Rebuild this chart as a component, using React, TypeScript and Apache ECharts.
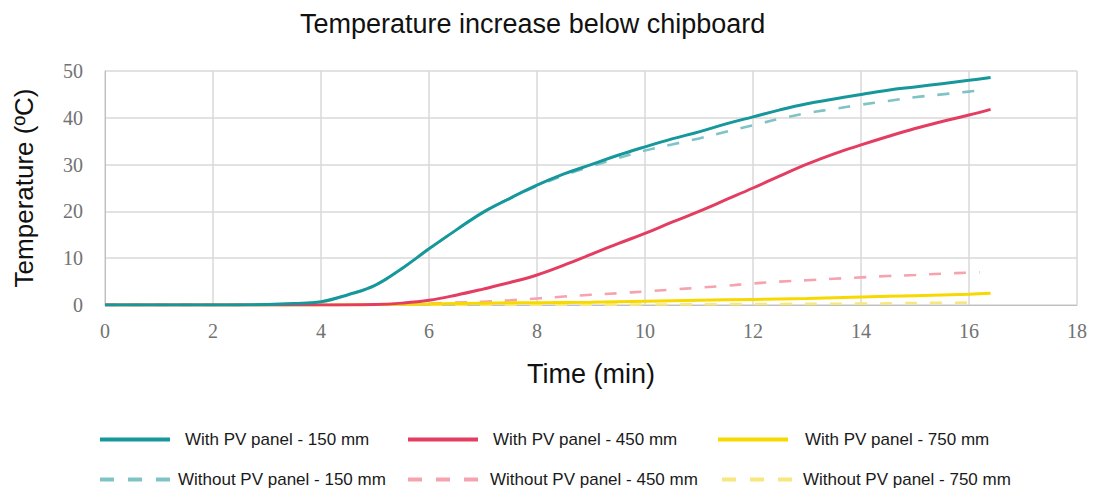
import React, { useEffect, useRef } from "react";
import * as echarts from "echarts";

const xTicks = [0, 2, 4, 6, 8, 10, 12, 14, 16, 18];
const yTicks = [0, 10, 20, 30, 40, 50];

const seriesNames = [
  "With PV panel - 150 mm",
  "With PV panel - 450 mm",
  "With PV panel - 750 mm",
  "Without PV panel - 150 mm",
  "Without PV panel - 450 mm",
  "Without PV panel - 750 mm",
];

const timeWith150 = [0, 1, 2, 3, 3.5, 4, 4.5, 5, 5.5, 6, 6.5, 7, 7.5, 8, 8.5, 9, 9.5, 10, 10.5, 11, 11.5, 12, 12.5, 13, 13.5, 14, 14.5, 15, 15.5, 16, 16.4];
const tempWith150 = [0, 0, 0, 0.1, 0.3, 0.7, 2.2, 4.2, 7.8, 12, 16, 19.8, 22.8, 25.6, 28, 30, 32, 33.8, 35.5, 37, 38.7, 40.2, 41.7, 43, 44, 45, 45.9, 46.6, 47.3, 48, 48.6];

const timeWithout150 = [0, 1, 2, 3, 3.5, 4, 4.5, 5, 5.5, 6, 6.5, 7, 7.5, 8, 8.5, 9, 9.5, 10, 10.5, 11, 11.5, 12, 12.5, 13, 13.5, 14, 14.5, 15, 15.5, 16, 16.2];
const tempWithout150 = [0, 0, 0, 0.1, 0.3, 0.7, 2.2, 4.2, 7.8, 12, 16, 19.8, 22.8, 25.4, 27.7, 29.6, 31.4, 33, 34.3, 35.6, 37, 38.4, 39.8, 41, 41.9, 42.8, 43.6, 44.4, 45, 45.6, 45.9];

const timeWith450 = [0, 1, 2, 3, 4, 5, 5.5, 6, 6.5, 7, 7.5, 8, 8.5, 9, 9.5, 10, 10.5, 11, 11.5, 12, 12.5, 13, 13.5, 14, 14.5, 15, 15.5, 16, 16.4];
const tempWith450 = [0, 0, 0, 0, 0, 0.1, 0.4, 1, 2.1, 3.4, 4.8, 6.4, 8.5, 10.8, 13.1, 15.3, 17.7, 20, 22.5, 25, 27.6, 30.1, 32.3, 34.2, 36, 37.7, 39.2, 40.6, 41.8];

const timeWithout450 = [0, 1, 2, 3, 4, 5, 5.5, 6, 6.5, 7, 7.5, 8, 8.5, 9, 9.5, 10, 10.5, 11, 11.5, 12, 12.5, 13, 13.5, 14, 14.5, 15, 15.5, 16, 16.2];
const tempWithout450 = [0, 0, 0, 0, 0, 0, 0.1, 0.3, 0.5, 0.7, 1, 1.4, 1.8, 2.2, 2.5, 2.9, 3.3, 3.7, 4.1, 4.6, 5, 5.3, 5.6, 5.9, 6.2, 6.4, 6.7, 6.9, 7];

const timeWith750 = [0, 1, 2, 3, 4, 5, 6, 7, 8, 9, 10, 11, 12, 13, 14, 15, 16, 16.4];
const tempWith750 = [0, 0, 0, 0, 0, 0.1, 0.2, 0.4, 0.5, 0.6, 0.8, 1, 1.2, 1.4, 1.7, 2, 2.3, 2.5];

const timeWithout750 = [0, 2, 4, 6, 8, 10, 12, 14, 16, 16.2];
const tempWithout750 = [0, 0, 0, 0, 0.05, 0.1, 0.2, 0.3, 0.5, 0.5];

const colors = ["#16979b", "#e33d62", "#f7d900", "#7fc3c5", "#f5a3ae", "#f8e77e"];

const pair = (t: number[], v: number[]) => t.map((x, i) => [x, v[i]]);

const SOLID_ICON = "path://M0,0H70V4H0Z";
const DASH_ICON = "path://M0,0H14V4H0Z M28,0H42V4H28Z M56,0H70V4H56Z";

const App: React.FC = () => {
  const ref = useRef<HTMLDivElement>(null);
  useEffect(() => {
    if (!ref.current) return;
    const chart = echarts.init(ref.current, undefined, { renderer: "svg" });
    const data = [
      pair(timeWith150, tempWith150),
      pair(timeWith450, tempWith450),
      pair(timeWith750, tempWith750),
      pair(timeWithout150, tempWithout150),
      pair(timeWithout450, tempWithout450),
      pair(timeWithout750, tempWithout750),
    ];
    const legendPos = [
      { left: 100, top: 431, pad: 10 },
      { left: 408, top: 431, pad: 10 },
      { left: 718, top: 431, pad: 12 },
      { left: 100, top: 471, pad: 3 },
      { left: 408, top: 471, pad: 7 },
      { left: 722, top: 471, pad: 6 },
    ];
    const z = [6, 5, 4, 3, 2, 1];
    chart.setOption({
      animation: false,
      backgroundColor: "#ffffff",
      title: {
        text: "Temperature increase below chipboard",
        left: 295,
        top: 5,
        textStyle: { fontFamily: "Liberation Sans", fontSize: 27, fontWeight: "normal", color: "#111" },
      },
      legend: seriesNames.map((n, i) => ({
        data: [{ name: n, icon: i < 3 ? SOLID_ICON : DASH_ICON }],
        left: legendPos[i].left,
        top: legendPos[i].top,
        padding: 0,
        itemWidth: 70,
        itemHeight: 4,
        selectedMode: false,
        textStyle: {
          fontFamily: "Liberation Sans",
          fontSize: 17,
          color: "#1a1a1a",
          padding: [0, 0, 0, legendPos[i].pad],
        },
      })),
      grid: { left: 105, right: 20, top: 71, bottom: 187, containLabel: false },
      xAxis: {
        type: "value",
        min: 0,
        max: 18,
        interval: 2,
        name: "Time (min)",
        nameLocation: "middle",
        nameGap: 55,
        nameTextStyle: { fontFamily: "Liberation Sans", fontSize: 27, color: "#111" },
        axisLine: { show: true, lineStyle: { color: "#bfbfbf", width: 1 } },
        axisTick: { show: false },
        axisLabel: {
          margin: 16,
          fontFamily: "Liberation Serif",
          fontSize: 20,
          color: "#727272",
          formatter: (v: number) => (xTicks.includes(v) ? String(v) : ""),
        },
        splitLine: { show: true, lineStyle: { color: "#d9d9d9", width: 1.5 } },
      },
      yAxis: {
        type: "value",
        min: 0,
        max: 50,
        interval: 10,
        name: "Temperature (ºC)",
        nameLocation: "middle",
        nameGap: 68,
        nameTextStyle: { fontFamily: "Liberation Sans", fontSize: 26, color: "#111" },
        axisLine: { show: true, lineStyle: { color: "#bfbfbf", width: 1 } },
        axisTick: { show: false },
        axisLabel: {
          margin: 22,
          fontFamily: "Liberation Serif",
          fontSize: 20,
          color: "#727272",
          formatter: (v: number) => (yTicks.includes(v) ? String(v) : ""),
        },
        splitLine: { show: true, lineStyle: { color: "#d9d9d9", width: 1.5 } },
      },
      series: seriesNames.map((n, i) => ({
        name: n,
        type: "line",
        data: data[i],
        smooth: 0.4,
        symbol: "none",
        showSymbol: false,
        z: z[i] + 2,
        color: colors[i],
        lineStyle: {
          color: colors[i],
          width: i < 3 ? 3 : 2.6,
          type: i < 3 ? "solid" : [12, 13],
        },
      })),
    });
    return () => chart.dispose();
  }, []);
  return <div ref={ref} style={{ width: 1097, height: 492, position: "absolute", left: 0, top: 0 }} />;
};

export default App;
